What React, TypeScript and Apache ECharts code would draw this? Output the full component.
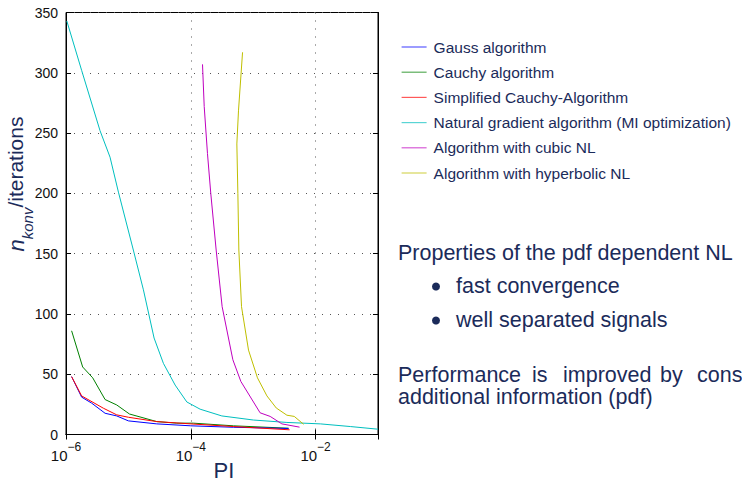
import React, { useEffect, useRef } from "react";
import * as echarts from "echarts";

// PI values (x) and iteration counts (y)
const gaussPI = [1.23e-6, 1.78e-6, 2.58e-6, 4.23e-6, 6.5e-6, 1.0e-5, 2.85e-5, 1.0e-4, 4.83e-4, 3.69e-3];
const gaussIter = [48, 31, 26, 17.6, 15.4, 11.3, 8.8, 7.2, 6, 5];

const cauchyPI = [1.23e-6, 1.85e-6, 2.68e-6, 4.23e-6, 6.5e-6, 1.04e-5, 2.85e-5, 5.96e-5, 1.1e-4, 4.83e-4, 3.69e-3];
const cauchyIter = [86, 56, 47, 29, 24.5, 17, 10.7, 9.4, 9.4, 7.2, 5.2];

const simpPI = [1.23e-6, 1.78e-6, 3.97e-6, 6.5e-6, 1.0e-5, 2.85e-5, 1.0e-4, 4.83e-4, 3.83e-3];
const simpIter = [48, 32, 21.8, 16.3, 14.3, 10.7, 8.8, 6.6, 3.9];

const natPI = [1.03e-6, 1.78e-6, 3.51e-6, 5.08e-6, 6.92e-6, 1.2e-5, 1.74e-5, 2.58e-5, 3.64e-5, 5.61e-5, 8.63e-5, 1.41e-4, 3.14e-4, 1.01e-3, 3.47e-3, 1.19e-2, 3.6e-2, 1.0e-1];
const natIter = [343, 302, 252, 230, 201, 153, 120, 80, 59, 41, 27, 21, 15.4, 12, 10, 8.8, 6.6, 4.4];

const cubicPI = [1.54e-4, 1.64e-4, 1.85e-4, 2.09e-4, 2.55e-4, 3.18e-4, 4.72e-4, 6.34e-4, 1.29e-3, 1.87e-3, 2.88e-3, 5.53e-3];
const cubicIter = [307, 272, 233, 200, 153, 106, 62, 44, 18, 15, 8.8, 6.1];

const hypPI = [6.75e-4, 5.82e-4, 5.47e-4, 5.68e-4, 5.89e-4, 6.5e-4, 8.41e-4, 1.17e-3, 1.66e-3, 2.34e-3, 3.47e-3, 4.55e-3, 6.41e-3];
const hypIter = [317, 269, 241, 200, 153, 106, 70, 47, 32, 22, 16, 15, 8.5];

const seriesNames = [
  "Gauss algorithm",
  "Cauchy algorithm",
  "Simplified Cauchy-Algorithm",
  "Natural gradient algorithm (MI optimization)",
  "Algorithm with cubic NL",
  "Algorithm with hyperbolic NL",
];
const seriesColors = ["#0000ff", "#008000", "#ff0000", "#00bfbf", "#bf00bf", "#bfbf00"];
const seriesX = [gaussPI, cauchyPI, simpPI, natPI, cubicPI, hypPI];
const seriesY = [gaussIter, cauchyIter, simpIter, natIter, cubicIter, hypIter];

const xTickExponents = [-6, -4, -2];

const NAVY = "#1b2b5a";
const FONT = "Liberation Sans, Arial, sans-serif";

export default function App() {
  const ref = useRef<HTMLDivElement>(null);
  useEffect(() => {
    if (!ref.current) return;
    const chart = echarts.init(ref.current, null, { renderer: "svg" });
    // draw order: natural, cubic, hyperbolic, cauchy, gauss, simplified (red on top)
    const drawOrder = [3, 4, 5, 1, 0, 2];
    const series = drawOrder.map((i) => ({
      name: seriesNames[i],
      type: "line",
      symbol: "none",
      showSymbol: false,
      data: seriesX[i].map((x, k) => [Math.log10(x), seriesY[i][k]]),
      lineStyle: { color: seriesColors[i], width: 1 },
      itemStyle: { color: seriesColors[i] },
      z: 3,
    }));
    const split = { show: true, lineStyle: { color: "#555", width: 1, type: [1, 7] as any } };
    const bodyText = { fill: NAVY, fontSize: 21.5, fontFamily: FONT };
    chart.setOption({
      animation: false,
      textStyle: { fontFamily: FONT },
      grid: {
        left: 66,
        top: 12.5,
        right: 364,
        bottom: 47.5,
        show: true,
        borderColor: "#000",
        borderWidth: 1,
        containLabel: false,
        outerBoundsMode: "none",
      },
      legend: {
        orient: "vertical",
        left: 396,
        top: 34,
        itemWidth: 25,
        itemHeight: 14,
        itemGap: 9.2,
        data: seriesNames.map((n) => ({ name: n })),
        textStyle: { color: NAVY, fontSize: 15.5, fontFamily: FONT, padding: [0, 0, 0, 2] },
        lineStyle: { width: 1.2, opacity: 0.65 },
        itemStyle: { opacity: 0, borderWidth: 0 },
      },
      xAxis: [
        {
          type: "value",
          min: -6,
          max: -1,
          interval: 2,
          axisLine: { show: true, lineStyle: { color: "#000", width: 1 } },
          axisTick: { show: true, inside: true, length: 5, lineStyle: { color: "#000" } },
          splitLine: split,
          axisLabel: {
            margin: 6,
            formatter: (v: number) =>
              xTickExponents.indexOf(Math.round(v)) >= 0 && Math.abs(v - Math.round(v)) < 1e-9
                ? `{b|10}{s|−${Math.abs(Math.round(v))}}`
                : "",
            rich: {
              b: { fontSize: 15, color: "#111", fontFamily: FONT, verticalAlign: "bottom", lineHeight: 22 },
              s: { fontSize: 12, color: "#111", fontFamily: FONT, verticalAlign: "top", lineHeight: 22 },
            },
          },
        },
        {
          type: "value",
          position: "top",
          min: -6,
          max: -1,
          interval: 2,
          axisLine: { show: true, lineStyle: { color: "#000" } },
          axisTick: { show: true, inside: true, length: 5, lineStyle: { color: "#000" } },
          axisLabel: { show: false },
          splitLine: { show: false },
        },
      ],
      yAxis: [
        {
          type: "value",
          min: 0,
          max: 350,
          interval: 50,
          axisLine: { show: true, lineStyle: { color: "#000", width: 1 } },
          axisTick: { show: true, inside: true, length: 5, lineStyle: { color: "#000" } },
          splitLine: split,
          axisLabel: { color: "#111", fontSize: 14, fontFamily: FONT, margin: 8 },
        },
        {
          type: "value",
          position: "right",
          min: 0,
          max: 350,
          interval: 50,
          axisLine: { show: true, lineStyle: { color: "#000" } },
          axisTick: { show: true, inside: true, length: 5, lineStyle: { color: "#000" } },
          axisLabel: { show: false },
          splitLine: { show: false },
        },
      ],
      series,
      graphic: [
        {
          type: "text",
          x: 20,
          y: 184,
          rotation: Math.PI / 2,
          style: {
            text: "{n|n}{k|konv}{t|/iterations}",
            align: "center",
            verticalAlign: "middle",
            rich: {
              n: { fontSize: 22, fontStyle: "italic", fill: NAVY, fontFamily: FONT, verticalAlign: "top", lineHeight: 26 },
              k: { fontSize: 15, fontStyle: "italic", fill: NAVY, fontFamily: FONT, verticalAlign: "bottom", lineHeight: 30 },
              t: { fontSize: 21, fill: NAVY, fontFamily: FONT, verticalAlign: "top", lineHeight: 26 },
            },
          },
        },
        {
          type: "text",
          x: 224,
          y: 470,
          style: { text: "PI", fill: NAVY, fontSize: 22, fontFamily: FONT, align: "center", verticalAlign: "middle" },
        },
        { type: "text", left: 398, top: 242, style: { text: "Properties of the pdf dependent NL", ...bodyText } },
        { type: "circle", shape: { cx: 436, cy: 286.5, r: 4 }, style: { fill: NAVY } },
        { type: "text", left: 456, top: 275, style: { text: "fast convergence", ...bodyText } },
        { type: "circle", shape: { cx: 436, cy: 320.5, r: 4 }, style: { fill: NAVY } },
        { type: "text", left: 456, top: 309, style: { text: "well separated signals", ...bodyText } },
        { type: "text", left: 398, top: 364, style: { text: "Performance", ...bodyText } },
        { type: "text", left: 532, top: 364, style: { text: "is", ...bodyText } },
        { type: "text", left: 563, top: 364, style: { text: "improved", ...bodyText } },
        { type: "text", left: 660, top: 364, style: { text: "by", ...bodyText } },
        { type: "text", x: 697, y: 364, style: { text: "considering", ...bodyText } },
        { type: "text", left: 398, top: 386, style: { text: "additional information (pdf)", ...bodyText } },
      ],
    });
    return () => chart.dispose();
  }, []);
  return (
    <div
      ref={ref}
      style={{ position: "fixed", left: 0, top: 0, width: 742, height: 482, background: "#fff" }}
    />
  );
}
